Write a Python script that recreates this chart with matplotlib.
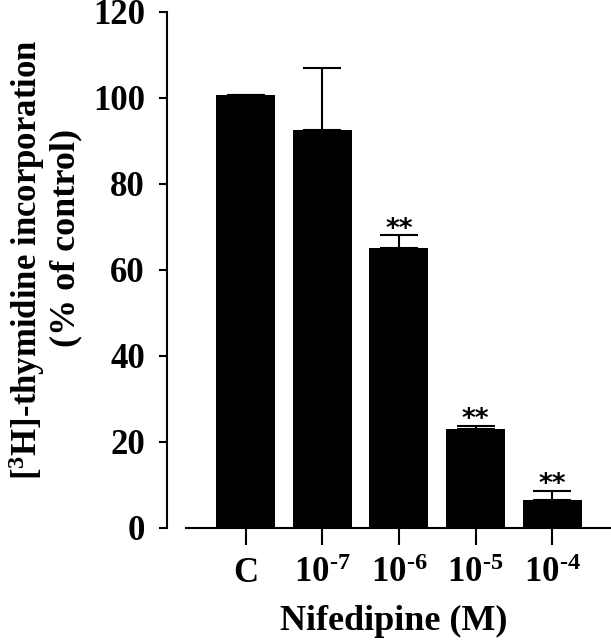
import numpy as np
import matplotlib.pyplot as plt

plt.rcParams['font.family'] = ['Liberation Serif', 'DejaVu Serif']
plt.rcParams['font.weight'] = 'bold'
plt.rcParams['mathtext.fontset'] = 'custom'
plt.rcParams['mathtext.rm'] = 'Liberation Serif:bold'
plt.rcParams['mathtext.bf'] = 'Liberation Serif:bold'
plt.rcParams['mathtext.it'] = 'Liberation Serif:bold'

# datos
grupos = ['C', r'$10^{\text{-}7}$', r'$10^{\text{-}6}$', r'$10^{\text{-}5}$', r'$10^{\text{-}4}$']
media = [100.7, 92.6, 65.1, 23.0, 6.4]
error = [0.0, 14.4, 3.0, 0.8, 2.3]
signif = ['', '', '**', '**', '**']

fig = plt.figure(figsize=(6.11, 6.40), dpi=100)
ax = fig.add_axes([167/611, 112/640, 444/611, 516/640])

x = np.arange(len(grupos))
ax.bar(x, media, width=0.77, color='black', zorder=2)
ax.errorbar(x, media, yerr=[np.zeros(len(error)), error], fmt='none',
            ecolor='black', elinewidth=1.5, capsize=14, capthick=1.5, zorder=3)

for xi, m, e, s in zip(x, media, error, signif):
    if s:
        ax.annotate(s, (xi, m + e), xytext=(0, 4), textcoords='offset points',
                    ha='center', va='center', fontsize=19, family='DejaVu Sans')

ax.set_xlim(-1.03, 4.77)
ax.set_ylim(0, 120)
ax.set_yticks(np.arange(0, 121, 20))
ax.set_xticks(x)
ax.set_xticklabels(grupos)

ax.spines['top'].set_visible(False)
ax.spines['right'].set_visible(False)
ax.spines['left'].set_bounds(0, 120)
ax.spines['bottom'].set_bounds(-0.78, 4.77)
ax.spines['left'].set_linewidth(1.5)
ax.spines['bottom'].set_linewidth(1.5)

ax.tick_params(axis='y', direction='out', length=6, width=1.5, labelsize=25, pad=10)
ax.tick_params(axis='x', direction='out', length=12, width=1.5, labelsize=25, pad=9)

# etiqueta del eje y en dos lineas
fig.text(27/611, 1 - 260/640, '[$^{3}$H]-thymidine incorporation',
         rotation=90, ha='center', va='center', fontsize=25, fontweight='bold')
fig.text(66/611, 1 - 238/640, '(% of control)',
         rotation=90, ha='center', va='center', fontsize=26, fontweight='bold')
fig.text(394/611, 1 - 621/640, 'Nifedipine (M)', ha='center', va='center',
         fontsize=26, fontweight='bold')

fig.savefig('out.png', dpi=100)
